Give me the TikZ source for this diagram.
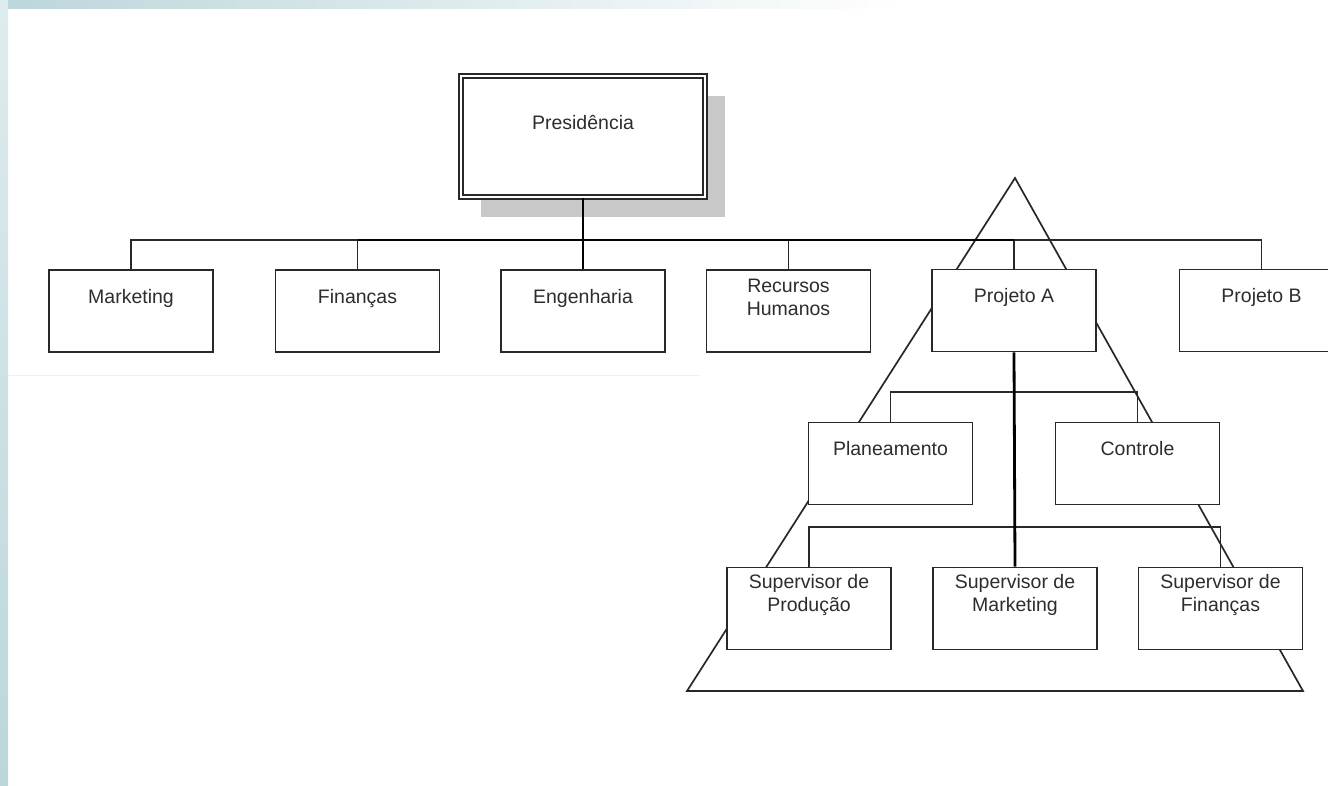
\documentclass[tikz,border=0pt]{standalone}
\usepackage{fontspec}
\setmainfont{Liberation Sans}
\usetikzlibrary{shadows}
\definecolor{ink}{RGB}{40,40,40}
\definecolor{txt}{RGB}{45,45,45}
\definecolor{shadowgray}{RGB}{200,200,200}
\definecolor{tealA}{RGB}{188,214,218}
\definecolor{tealB}{RGB}{222,236,238}
\tikzset{
  conn/.style={draw=ink, line width=1.7pt},
  thickconn/.style={draw=black, line width=2.8pt},
  box/.style={draw=ink, line width=1.9pt, fill=white, rectangle, inner sep=0pt,
              minimum width=164pt, minimum height=82pt},
  lbl/.style={anchor=north, inner sep=0pt, text=txt, align=center,
              font=\fontsize{19.5}{23}\selectfont, label distance=0pt},
  presbox/.style={draw=ink, line width=1.5pt, double=white, double distance=2.2pt,
              fill=white, rectangle, inner sep=0pt, minimum width=244pt, minimum height=121pt,
              drop shadow={shadow xshift=20pt, shadow yshift=-20pt, fill=shadowgray, opacity=1}},
}
\begin{document}
\begin{tikzpicture}[x=1pt,y=-1pt]
\clip (0,0) rectangle (1328,785);
\fill[white] (0,0) rectangle (1328,785);
% background tint
\shade[left color=tealA, right color=white] (0,0) rectangle (900,8);
\shade[top color=tealB, bottom color=tealA] (0,0) rectangle (8,785);
\draw[gray!12, line width=1pt] (8,375) -- (700,375);

% pyramid behind Projeto A
\coordinate (apex) at (1015,178);
\coordinate (baseL) at (687,691);
\coordinate (baseR) at (1303,691);
\draw[conn] (apex) -- (baseL) -- (baseR) -- cycle;

% bus coordinates
\coordinate (bus) at (583,240);
\coordinate (bar1) at (1015,392);
\coordinate (bar2) at (1015,527);

% boxes
\node[presbox, label={[lbl, yshift=-40pt]north:Presidência}] (pres) at (583,136.5) {};
\node[box, label={[lbl, yshift=-20pt]north:Marketing}] (mkt) at (131,311) {};
\node[box, label={[lbl, yshift=-20pt]north:Finanças}] (fin) at (357.5,311) {};
\node[box, label={[lbl, yshift=-20pt]north:Engenharia}] (eng) at (583,311) {};
\node[box, label={[lbl, yshift=-10pt]north:Recursos\\Humanos}] (rh) at (788.5,311) {};
\node[box, label={[lbl, yshift=-20pt]north:Projeto A}] (pa) at (1014,310.5) {};
\node[box, label={[lbl, yshift=-20pt]north:Projeto B}] (pb) at (1261.5,310.5) {};
\node[box, label={[lbl, yshift=-20pt]north:Planeamento}] (plan) at (890.5,463.5) {};
\node[box, label={[lbl, yshift=-20pt]north:Controle}] (ctrl) at (1137.5,463.5) {};
\node[box, label={[lbl, yshift=-8pt]north:Supervisor de\\Produção}] (sp) at (809,608.5) {};
\node[box, label={[lbl, yshift=-8pt]north:Supervisor de\\Marketing}] (sm) at (1015,608.5) {};
\node[box, label={[lbl, yshift=-8pt]north:Supervisor de\\Finanças}] (sf) at (1220.5,608.5) {};

% first level connectors
\draw[conn] (mkt.north) |- (fin.north |- bus);
\draw[conn] (fin.north) -- (fin.north |- bus);
\draw[conn] (rh.north) -- (rh.north |- bus);
\draw[conn] (pa.north) -- (pa.north |- bus);
\draw[conn] (pa.north |- bus) -| (pb.north);
\draw[thickconn] (fin.north |- bus) -- (pa.north |- bus);
\draw[thickconn] (pres.south) -- (eng.north);

% Projeto A structure
\draw[conn] (plan.north) |- (bar1) -| (ctrl.north);
\draw[conn] (sp.north) |- (bar2) -| (sf.north);
\draw[thickconn] (pa.south) -- (sm.north);
\end{tikzpicture}
\end{document}
